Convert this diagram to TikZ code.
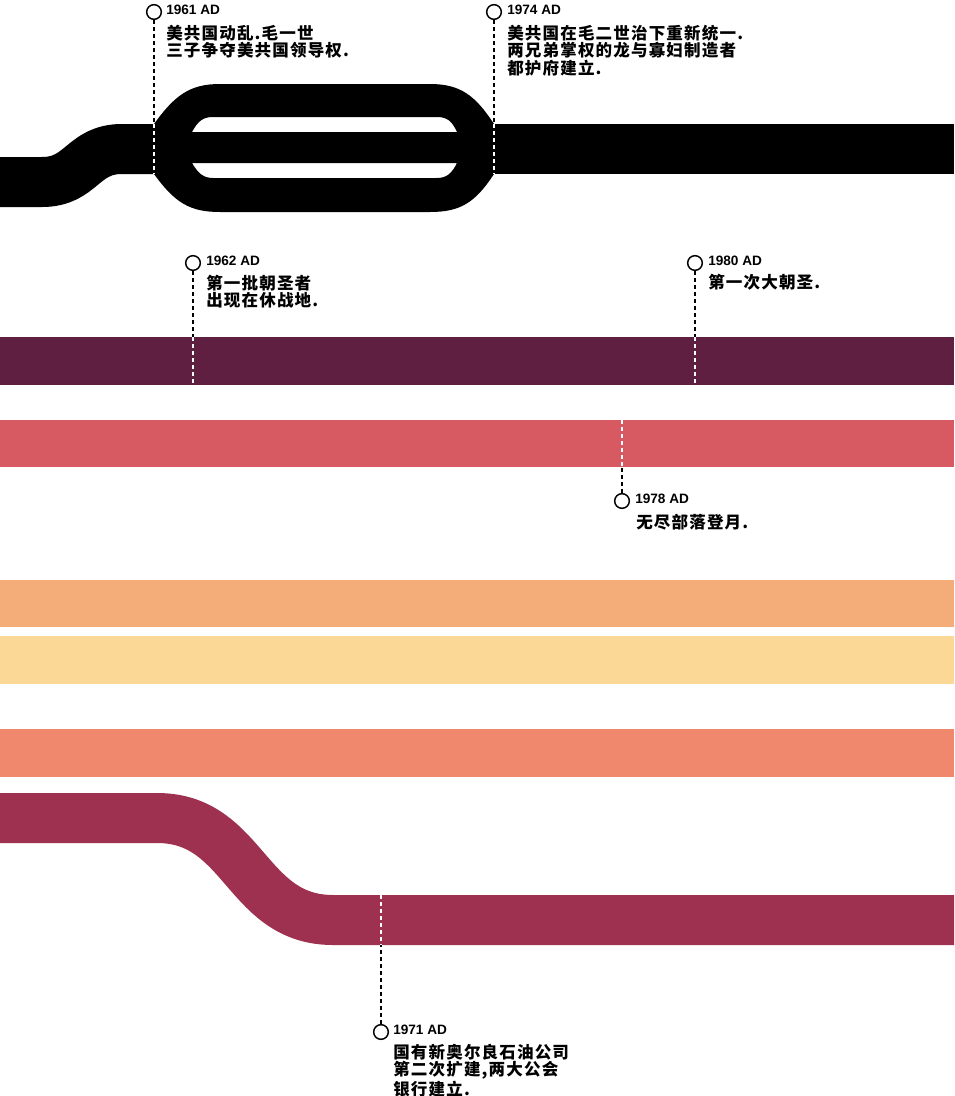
\documentclass[tikz,border=0pt]{standalone}
\usepackage{fontspec}
\setmainfont{Liberation Sans}
\newfontfamily\cjk{Noto Sans CJK SC}[LetterSpace=7]
\usetikzlibrary{calc}
\definecolor{plum}{HTML}{5F1F40}
\definecolor{rosered}{HTML}{D75A62}
\definecolor{apricot}{HTML}{F4AC78}
\definecolor{paleyellow}{HTML}{FCD896}
\definecolor{salmon}{HTML}{EF886C}
\definecolor{crimson}{HTML}{9E3150}
\tikzset{
	milestone/.style={circle,draw=black,line width=1.1pt,minimum size=11pt,inner sep=0pt,fill=white},
	yearlbl/.style={anchor=west,inner sep=0pt,font=\bfseries\fontsize{10.2}{10.5}\selectfont},
	evtxt/.style={anchor=north west,inner sep=0pt,align=left,font=\cjk\bfseries\fontsize{12.4}{13}\selectfont},
	dashblk/.style={line width=1.5pt,dash pattern=on 3pt off 2.25pt},
	dashwht/.style={dashblk,white}
}
\begin{document}
\begin{tikzpicture}[x=0.75pt,y=-0.75pt]
	\useasboundingbox (0,0) rectangle (954,1096);
	%BLACK LINE
	\draw[line width=37.5pt] (0,182)--(42,182) .. controls (82,182) and (82,149) .. (122,149)--(156,149);
	\fill[even odd rule] (154,124) .. controls (175,95) and (190,84) .. (220,84)--(430,84)
		.. controls (460,84) and (475,95) .. (494,124)--(494,174)
		.. controls (475,203) and (460,212) .. (430,212)--(220,212)
		.. controls (190,212) and (175,203) .. (154,174)--cycle
		(192,132) .. controls (198,121) and (203,117) .. (213,117)--(437,117)
		.. controls (447,117) and (452,121) .. (457,132)--cycle
		(192,163)--(457,163) .. controls (452,173) and (447,178) .. (437,178)--(213,178)
		.. controls (203,178) and (198,173) .. (192,163)--cycle;
	\fill (494,124) rectangle (954,174);
	
	%COLOURED LINES
	\fill[plum] (0,337) rectangle (954,385);
	\fill[rosered] (0,420) rectangle (954,467);
	\fill[apricot] (0,580) rectangle (954,627);
	\fill[paleyellow] (0,636) rectangle (954,684);
	\fill[salmon] (0,729) rectangle (954,777);
	\draw[crimson,line width=37.5pt] (0,818)--(157,818) .. controls (245,818) and (245,920) .. (333,920)--(954,920);
	
	%MILESTONES
	\node[milestone] (c1961) at (154,12) {};
	\node[milestone] (c1974) at (494,12) {};
	\node[milestone] (c1962) at (193,263) {};
	\node[milestone] (c1980) at (695,263) {};
	\node[milestone] (c1978) at (622,501) {};
	\node[milestone] (c1971) at (381,1032) {};
	%
	\coordinate (t1961) at (154,124); \coordinate (u1961) at (154,174);
	\coordinate (t1974) at (494,124); \coordinate (u1974) at (494,174);
	\coordinate (t1962) at (193,337); \coordinate (u1962) at (193,385);
	\coordinate (t1980) at (695,337); \coordinate (u1980) at (695,385);
	\coordinate (t1978) at (622,420); \coordinate (u1978) at (622,467);
	\coordinate (t1971) at (381,895); \coordinate (u1971) at (381,945);
	%
	\draw[dashblk] (c1961)--(t1961); \draw[dashwht] (t1961)--(u1961);
	\draw[dashblk] (c1974)--(t1974); \draw[dashwht] (t1974)--(u1974);
	\draw[dashblk] (c1962)--(t1962); \draw[dashwht] (t1962)--(u1962);
	\draw[dashblk] (c1980)--(t1980); \draw[dashwht] (t1980)--(u1980);
	\draw[dashblk] (c1978)--(u1978); \draw[dashwht] (t1978)--(u1978);
	\draw[dashblk] (c1971)--(u1971); \draw[dashwht] (t1971)--(u1971);
	
	%LABELS
	\node[yearlbl] (y1961) at (166,9.5) {1961 AD};
	\node[evtxt] (e1961) at (166,25) {美共国动乱.毛一世\\三子争夺美共国领导权.};
	\node[yearlbl] (y1974) at (507,9.5) {1974 AD};
	\node[evtxt] (e1974) at (507,25) {美共国在毛二世治下重新统一.\\两兄弟掌权的龙与寡妇制造者\\都护府建立.};
	\node[yearlbl] (y1962) at (206,261) {1962 AD};
	\node[evtxt] (e1962) at (206,275) {第一批朝圣者\\出现在休战地.};
	\node[yearlbl] (y1980) at (708,261) {1980 AD};
	\node[evtxt] (e1980) at (708,274) {第一次大朝圣.};
	\node[yearlbl] (y1978) at (635,499) {1978 AD};
	\node[evtxt] (e1978) at (636,514) {无尽部落登月.};
	\node[yearlbl] (y1971) at (393,1030) {1971 AD};
	\node[evtxt] (e1971) at (393,1044) {国有新奥尔良石油公司\\第二次扩建,两大公会\\银行建立.};
\end{tikzpicture}
\end{document}
